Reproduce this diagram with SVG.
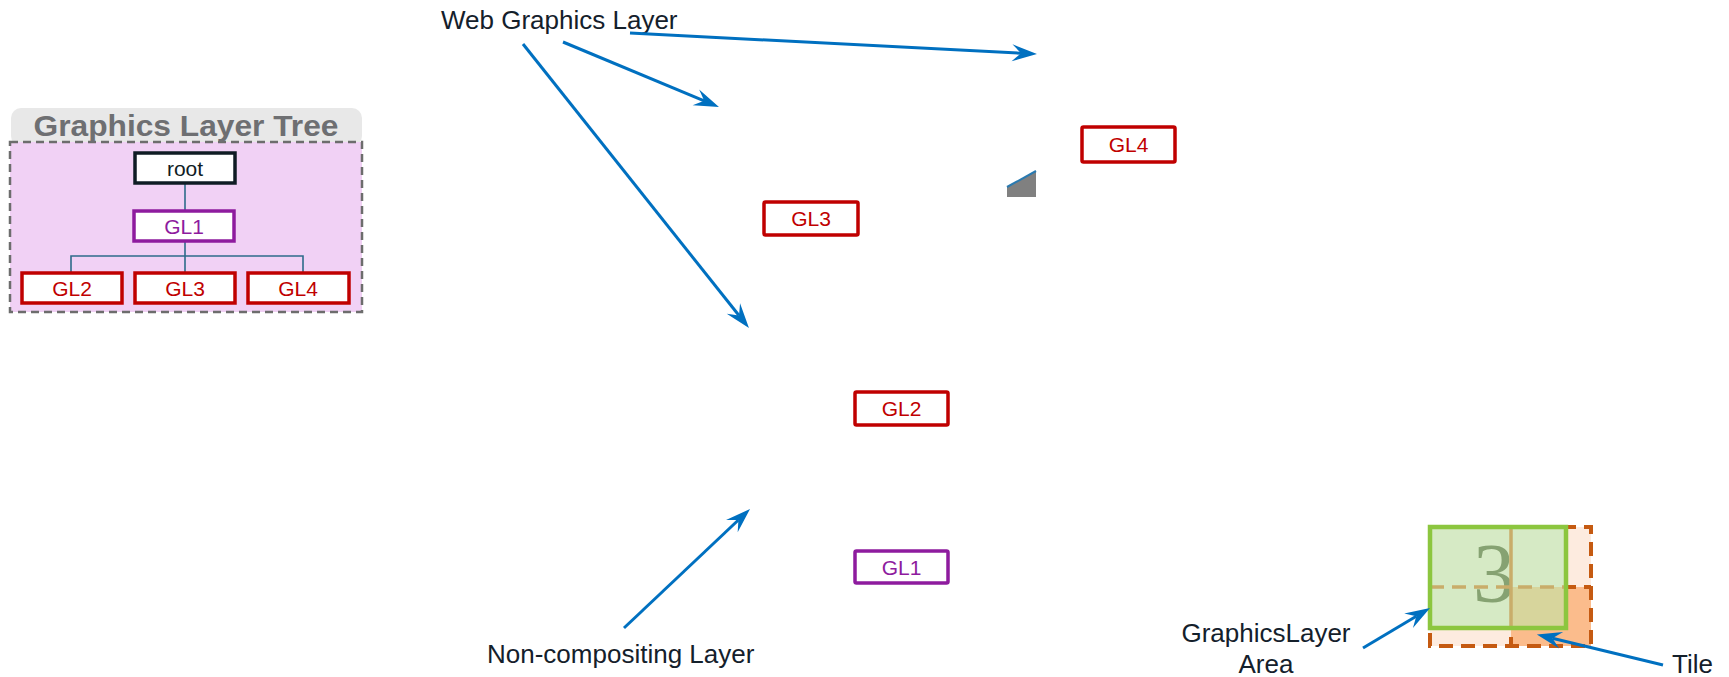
<svg xmlns="http://www.w3.org/2000/svg" width="1729" height="677" viewBox="0 0 1729 677">
<style>
  text { font-family: "Liberation Sans", Arial, sans-serif; }
  text.serif { font-family: "Liberation Serif", "Times New Roman", serif; }
  .lbl { font-size: 26px; fill: #14202b; }
  .box { fill: #ffffff; stroke-width: 3.5; }
  .red { stroke: #c00000; }
  .redt { fill: #c00000; font-size: 21px; text-anchor: middle; }
  .pur { stroke: #8e1b9e; }
  .purt { fill: #8e1b9e; font-size: 21px; text-anchor: middle; }
  .tree { stroke: #2e6b8a; stroke-width: 1.6; fill: none; }
  .arr { stroke: #0070c0; stroke-width: 3; fill: none; marker-end: url(#ah); }
</style>
<defs>
  <marker id="ah" viewBox="-26 -9 27 18" refX="-16" refY="0" markerWidth="27" markerHeight="18" markerUnits="userSpaceOnUse" orient="auto">
    <path d="M0,0 L-25,-8.5 L-16,0 L-25,8.5 Z" fill="#0070c0"/>
  </marker>
</defs>
<rect width="1729" height="677" fill="#ffffff"/>

<g id="tree-panel">
  <rect x="11" y="108" width="351" height="38" rx="10" fill="#e8e8e8"/>
  <rect x="10" y="142" width="352" height="170" fill="#f1d1f5" stroke="#6d6d6d" stroke-width="2.5" stroke-dasharray="8 5"/>
  <text x="186" y="136" text-anchor="middle" font-size="30" font-weight="bold" fill="#6e6f72" textLength="305" lengthAdjust="spacingAndGlyphs">Graphics Layer Tree</text>
  <g id="tree-connectors">
    <line class="tree" x1="185" y1="183" x2="185" y2="211"/>
    <line class="tree" x1="185" y1="241" x2="185" y2="273"/>
    <polyline class="tree" points="71,273 71,256 303,256 303,273"/>
  </g>
  <g id="tree-root">
    <rect class="box" x="135" y="153" width="100" height="30" stroke="#0f1c24"/>
    <text x="185" y="176" text-anchor="middle" font-size="21" fill="#0f1c24">root</text>
  </g>
  <g id="tree-gl1">
    <rect class="box pur" x="134" y="211" width="100" height="30"/>
    <text class="purt" x="184" y="234">GL1</text>
  </g>
  <g id="tree-gl2">
    <rect class="box red" x="22" y="273" width="100" height="30"/>
    <text class="redt" x="72" y="296">GL2</text>
  </g>
  <g id="tree-gl3">
    <rect class="box red" x="135" y="273" width="100" height="30"/>
    <text class="redt" x="185" y="296">GL3</text>
  </g>
  <g id="tree-gl4">
    <rect class="box red" x="248" y="273" width="101" height="30"/>
    <text class="redt" x="298" y="296">GL4</text>
  </g>
</g>

<g id="label-web">
  <text class="lbl" x="441" y="29">Web Graphics Layer</text>
</g>
<g id="label-noncomp">
  <text class="lbl" x="487" y="663">Non-compositing Layer</text>
</g>
<g id="label-area">
  <text class="lbl" x="1266" y="642" text-anchor="middle">GraphicsLayer</text>
  <text class="lbl" x="1266" y="673" text-anchor="middle">Area</text>
</g>
<g id="label-tile">
  <text class="lbl" x="1672" y="673">Tile</text>
</g>

<g id="gl4">
  <rect class="box red" x="1082" y="127" width="93" height="35" rx="1.5"/>
  <text class="redt" x="1128.5" y="152">GL4</text>
</g>
<g id="gl3">
  <rect class="box red" x="764" y="202" width="94" height="33" rx="1.5"/>
  <text class="redt" x="811" y="226">GL3</text>
</g>
<g id="gl2">
  <rect class="box red" x="855" y="392" width="93" height="33" rx="1.5"/>
  <text class="redt" x="901.5" y="416">GL2</text>
</g>
<g id="gl1">
  <rect class="box pur" x="855" y="551" width="93" height="32" rx="1.5"/>
  <text class="purt" x="901.5" y="575">GL1</text>
</g>

<g id="grey-fragment">
  <polygon points="1007,187 1036,171 1036,197 1007,197" fill="#808080"/>
  <line x1="1007" y1="187" x2="1036" y2="171" stroke="#2a7ab0" stroke-width="2"/>
</g>

<g id="tile-graphic">
  <rect x="1430" y="527" width="161" height="119" fill="#fdebdf"/>
  <rect x="1511" y="587" width="80" height="59" fill="#fbbc8c"/>
  <g stroke="#c55a11" stroke-width="4" fill="none" stroke-dasharray="14 8">
    <rect x="1430" y="527" width="161" height="119"/>
    <line x1="1511" y1="527" x2="1511" y2="646"/>
    <line x1="1430" y1="587" x2="1591" y2="587"/>
  </g>
  <rect x="1428" y="525" width="140" height="105" fill="#d6eac5"/>
  <rect x="1511" y="587" width="57" height="43" fill="#d7d59c"/>
  <text class="serif" x="1494" y="602" text-anchor="middle" font-size="84" fill="#7d9a68" fill-opacity="0.9">3</text>
  <line x1="1430" y1="587" x2="1566" y2="587" stroke="#c9ad6a" stroke-width="3.5" stroke-dasharray="14 8"/>
  <line x1="1511" y1="527" x2="1511" y2="628" stroke="#c9ad6a" stroke-width="3.5"/>
  <rect x="1430" y="527" width="136" height="101" fill="none" stroke="#8cc63f" stroke-width="4.5"/>
</g>

<g id="connectors">
  <line class="arr" x1="630" y1="33" x2="1021" y2="53.2"/>
  <line class="arr" x1="563" y1="42" x2="704.2" y2="100.8"/>
  <line class="arr" x1="523" y1="44" x2="739" y2="315.5"/>
  <line class="arr" x1="624" y1="628" x2="738.4" y2="520"/>
  <line class="arr" x1="1363" y1="648" x2="1416.3" y2="616.2"/>
  <line class="arr" x1="1663" y1="665" x2="1552.4" y2="638.2"/>
</g>
</svg>
